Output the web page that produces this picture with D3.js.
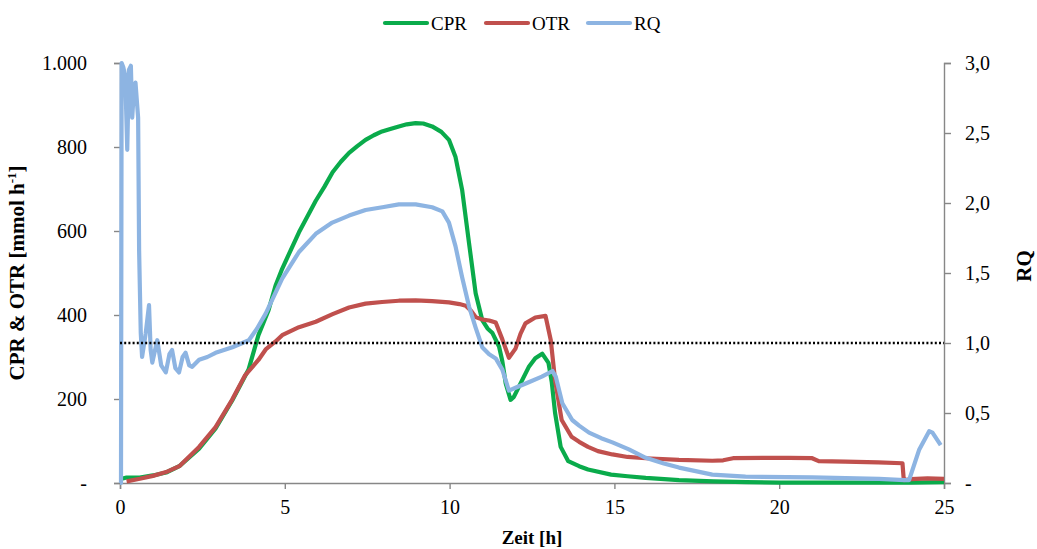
<!DOCTYPE html>
<html>
<head>
<meta charset="utf-8">
<script src="https://cdn.jsdelivr.net/npm/d3@7"></script>
<style>
  body { margin: 0; background: #fff; }
  text { font-family: "Liberation Serif", "Times New Roman", serif; fill: #000; }
</style>
</head>
<body>
<svg id="chart"></svg>
<script>
// Zeit [h] vs. value
const cprData = [
  [0.05, 10], [0.2, 13], [0.4, 13], [0.6, 13], [1.0, 18], [1.4, 25], [1.8, 40], [2.4, 82],
  [2.9, 130], [3.4, 196], [3.9, 270], [4.2, 352], [4.5, 410], [4.72, 470], [4.92, 510],
  [5.43, 597], [5.94, 672], [6.2, 705], [6.45, 740], [6.7, 765], [6.95, 786], [7.2, 802],
  [7.45, 817], [7.7, 828], [7.95, 837], [8.2, 843], [8.46, 849], [8.7, 854], [8.97, 857],
  [9.2, 856], [9.47, 849], [9.75, 836], [9.98, 817], [10.18, 776], [10.38, 698], [10.59, 571],
  [10.79, 452], [10.99, 388], [11.15, 368], [11.3, 357], [11.5, 325], [11.6, 290], [11.7, 238],
  [11.85, 198], [11.95, 205], [12.1, 229], [12.4, 276], [12.6, 297], [12.81, 308], [13.0, 286],
  [13.1, 240], [13.2, 167], [13.37, 86], [13.6, 52], [13.93, 40], [14.2, 32], [14.9, 20],
  [15.4, 16], [15.95, 12], [16.96, 7], [18, 4], [19, 2], [20, 1], [22, 1], [24, 1], [25, 2]
];
const otrData = [
  [0.2, 4], [0.6, 10], [1.0, 17], [1.4, 26], [1.8, 40], [2.4, 86], [2.9, 133], [3.4, 198],
  [3.8, 257], [4.2, 293], [4.42, 318], [4.72, 337], [4.92, 352], [5.43, 371], [5.94, 384],
  [6.45, 402], [6.95, 418], [7.45, 427], [7.95, 431], [8.46, 434], [8.97, 435], [9.47, 433],
  [9.98, 430], [10.3, 426], [10.49, 422], [10.65, 410], [10.79, 395], [11.0, 389], [11.2, 387],
  [11.4, 382], [11.6, 342], [11.8, 298], [12.0, 320], [12.15, 355], [12.3, 380], [12.6, 394],
  [12.91, 398], [13.07, 340], [13.2, 245], [13.4, 150], [13.7, 110], [13.93, 98], [14.2, 86],
  [14.5, 76], [14.94, 68], [15.4, 62], [15.95, 59], [16.96, 55], [17.97, 53], [18.3, 54],
  [18.6, 59], [19.5, 60], [20.3, 60], [21.0, 59], [21.2, 52], [22.0, 51], [23.0, 49],
  [23.74, 47], [23.78, 7], [24.0, 9], [24.5, 11], [25, 10]
];
const rqData = [
  [0.0, 0.0], [0.03, 0.0], [0.05, 3.0], [0.1, 2.97], [0.16, 2.9], [0.22, 2.38], [0.27, 2.95],
  [0.33, 2.98], [0.37, 2.61], [0.42, 2.8], [0.47, 2.86], [0.55, 2.61], [0.58, 1.66],
  [0.63, 1.07], [0.67, 0.9], [0.78, 1.07], [0.88, 1.27], [0.93, 0.95], [0.98, 0.86],
  [1.13, 1.02], [1.25, 0.84], [1.39, 0.79], [1.5, 0.92], [1.58, 0.95], [1.68, 0.82],
  [1.79, 0.79], [1.9, 0.9], [1.99, 0.93], [2.1, 0.84], [2.19, 0.83], [2.4, 0.88],
  [2.65, 0.9], [2.9, 0.93], [3.41, 0.97], [3.91, 1.02], [4.15, 1.1], [4.42, 1.21],
  [4.92, 1.46], [5.43, 1.65], [5.94, 1.78], [6.44, 1.86], [6.95, 1.91], [7.45, 1.95],
  [7.96, 1.97], [8.46, 1.99], [8.97, 1.99], [9.47, 1.97], [9.78, 1.94], [9.98, 1.86],
  [10.18, 1.69], [10.38, 1.47], [10.59, 1.26], [10.79, 1.11], [10.99, 0.97], [11.2, 0.92],
  [11.4, 0.89], [11.6, 0.81], [11.8, 0.66], [12.0, 0.68], [12.4, 0.72], [12.8, 0.76],
  [13.12, 0.8], [13.22, 0.76], [13.42, 0.57], [13.72, 0.45], [13.93, 0.41], [14.23, 0.36],
  [14.6, 0.32], [14.94, 0.29], [15.44, 0.24], [15.95, 0.18], [16.5, 0.14], [16.96, 0.11],
  [17.97, 0.06], [18.98, 0.045], [21.0, 0.04], [23.03, 0.03], [23.8, 0.02], [23.94, 0.02],
  [24.25, 0.24], [24.55, 0.37], [24.65, 0.36], [24.9, 0.27]
];
const refRQ = 1.0;

const xTicks = [0, 5, 10, 15, 20, 25];
const leftTicks = [0, 200, 400, 600, 800, 1000];
const rightTicks = [0, 0.5, 1.0, 1.5, 2.0, 2.5, 3.0];

const legendItems = [
  { name: 'CPR', color: '#0AAB4B' },
  { name: 'OTR', color: '#C0504D' },
  { name: 'RQ', color: '#8DB4E2' }
];

const width = 1037, height = 549;
const margin = { top: 63, right: 93, bottom: 66, left: 120 };

const svg = d3.select('#chart')
    .attr('width', width)
    .attr('height', height);

const x = d3.scaleLinear().domain([0, 25]).range([margin.left, width - margin.right]);
const yL = d3.scaleLinear().domain([0, 1000]).range([height - margin.bottom, margin.top]);
const yR = d3.scaleLinear().domain([0, 3]).range([height - margin.bottom, margin.top]);

const axisColor = '#878787';

// axes
const xAxis = svg.append('g')
    .attr('transform', `translate(0,${height - margin.bottom})`)
    .call(d3.axisBottom(x).tickValues(xTicks).tickSize(6).tickPadding(11).tickFormat(d3.format('d')));

const leftAxis = svg.append('g')
    .attr('transform', `translate(${margin.left},0)`)
    .call(d3.axisLeft(yL).tickValues(leftTicks).tickSize(6).tickPadding(27)
      .tickFormat(d => d === 0 ? '-' : d3.format(',')(d).replace(',', '.')));

const rightAxis = svg.append('g')
    .attr('transform', `translate(${width - margin.right},0)`)
    .call(d3.axisRight(yR).tickValues(rightTicks).tickSize(7).tickPadding(14)
      .tickFormat(d => d === 0 ? '-' : d.toFixed(1).replace('.', ',')));

[xAxis, leftAxis, rightAxis].forEach(a => {
  a.select('.domain').attr('stroke', axisColor).attr('stroke-width', 1.4);
  a.selectAll('.tick line').attr('stroke', axisColor).attr('stroke-width', 1.4);
  a.selectAll('.tick text').style('font-size', '20px').style('font-family', '"Liberation Serif", serif');
});

// lines
const lineL = d3.line().x(d => x(d[0])).y(d => yL(d[1]));
const lineR = d3.line().x(d => x(d[0])).y(d => yR(d[1]));

svg.append('path').datum(cprData)
    .attr('fill', 'none').attr('stroke', legendItems[0].color)
    .attr('stroke-width', 4.2).attr('stroke-linejoin', 'round').attr('d', lineL);

svg.append('path').datum(otrData)
    .attr('fill', 'none').attr('stroke', legendItems[1].color)
    .attr('stroke-width', 4.2).attr('stroke-linejoin', 'round').attr('d', lineL);

svg.append('path').datum(rqData)
    .attr('fill', 'none').attr('stroke', legendItems[2].color)
    .attr('stroke-width', 4.2).attr('stroke-linejoin', 'round').attr('d', lineR);

// RQ = 1 reference
svg.append('line')
    .attr('x1', x(0)).attr('x2', x(25))
    .attr('y1', yR(refRQ)).attr('y2', yR(refRQ))
    .attr('stroke', '#000').attr('stroke-width', 2.5)
    .attr('stroke-dasharray', '2,2.2');

// axis titles
const yTitle = svg.append('text')
    .attr('transform', `translate(24,${(margin.top + height - margin.bottom) / 2}) rotate(-90)`)
    .attr('text-anchor', 'middle')
    .style('font-size', '21px').style('font-weight', 'bold');
yTitle.append('tspan').text('CPR & OTR [mmol h');
yTitle.append('tspan').attr('dy', -8).style('font-size', '13px').text('-1');
yTitle.append('tspan').attr('dy', 8).text(']');

svg.append('text')
    .attr('transform', `translate(1031,266) rotate(-90)`)
    .attr('text-anchor', 'middle')
    .style('font-size', '21px').style('font-weight', 'bold')
    .text('RQ');

svg.append('text')
    .attr('x', (x(0) + x(25)) / 2)
    .attr('y', 544)
    .attr('text-anchor', 'middle')
    .style('font-size', '19px').style('font-weight', 'bold')
    .text('Zeit [h]');

// legend
const legendX = [385, 486, 588];
const legend = svg.append('g').selectAll('g')
    .data(legendItems)
    .enter().append('g')
    .attr('transform', (d, i) => `translate(${legendX[i]},23)`);

legend.append('line')
    .attr('x1', 0).attr('x2', 42)
    .attr('stroke', d => d.color).attr('stroke-width', 4.2).attr('stroke-linecap', 'round');

legend.append('text')
    .attr('x', 46).attr('y', 7)
    .style('font-size', '19px')
    .text(d => d.name);
</script>
</body>
</html>
